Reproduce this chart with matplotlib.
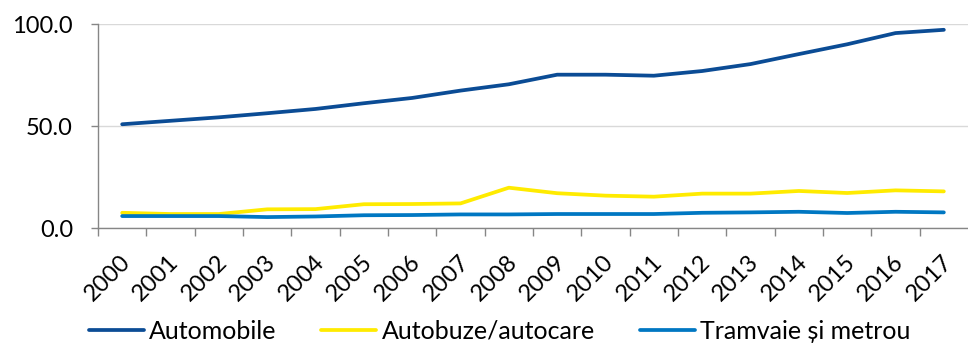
import numpy as np
import matplotlib
matplotlib.use('Agg')
import matplotlib.pyplot as plt
import matplotlib.transforms as mtransforms

plt.rcParams['font.family'] = ['Lato', 'DejaVu Sans']

years = [str(y) for y in range(2000, 2018)]
automobile = [51.0, 52.7, 54.4, 56.4, 58.5, 61.3, 63.9, 67.5, 70.6, 75.3,
              75.3, 74.8, 77.1, 80.5, 85.4, 90.2, 95.7, 97.3]
autobuze = [7.6, 7.0, 7.0, 9.3, 9.4, 11.8, 11.9, 12.2, 19.9, 17.2,
            16.0, 15.5, 17.0, 17.0, 18.3, 17.3, 18.6, 18.1]
tramvaie = [6.0, 6.0, 6.0, 5.5, 5.8, 6.4, 6.5, 6.8, 6.8, 7.0,
            7.0, 7.0, 7.6, 7.8, 8.1, 7.5, 8.1, 7.8]
series_names = ['Automobile', 'Autobuze/autocare', 'Tramvaie și metrou']
colors = ['#0B4C95', '#FFEB00', '#0077C2']

fig = plt.figure(figsize=(9.68, 3.47), dpi=100)
ax = fig.add_axes([98 / 968, (347 - 228.3) / 347, 1 - 98 / 968, 204 / 347])

x = np.arange(len(years))
for vals, name, c in zip([automobile, autobuze, tramvaie], series_names, colors):
    ax.plot(x, vals, color=c, linewidth=2.7, label=name, solid_capstyle='round')

ax.set_xlim(-0.5, 17.5)
ax.set_ylim(0, 100)
ax.set_yticks([0, 50, 100])
ax.set_yticklabels(['0.0', '50.0', '100.0'], fontsize=17)
ax.set_xticks(x)
ax.set_xticklabels(years, fontsize=17, rotation=45, ha='right', va='center',
                   rotation_mode='anchor')
ax.set_xticks(np.arange(-0.5, 17.5, 1), minor=True)
ax.tick_params(axis='x', which='major', length=0, pad=22)
ax.tick_params(axis='x', which='minor', length=6, color='#868686', width=1)
ax.tick_params(axis='y', length=5, color='#868686', width=1, pad=13)

# nudge the rotated year labels a little to the right
shift = mtransforms.ScaledTranslation(5 / 100, 0, fig.dpi_scale_trans)
for lbl in ax.get_xticklabels():
    lbl.set_transform(lbl.get_transform() + shift)

ax.grid(axis='y', color='#D9D9D9', linewidth=1)
ax.set_axisbelow(True)
for side in ['top', 'right']:
    ax.spines[side].set_visible(False)
for side in ['left', 'bottom']:
    ax.spines[side].set_color('#868686')
    ax.spines[side].set_linewidth(1)
ax.spines['bottom'].set_zorder(3)

fig.legend(loc='center', bbox_to_anchor=(0.516, 0.045), ncol=3, frameon=False,
           fontsize=18, handlelength=2.2, handletextpad=0.2, columnspacing=1.8,
           borderpad=0.1)

fig.savefig('out.png', dpi=100)
